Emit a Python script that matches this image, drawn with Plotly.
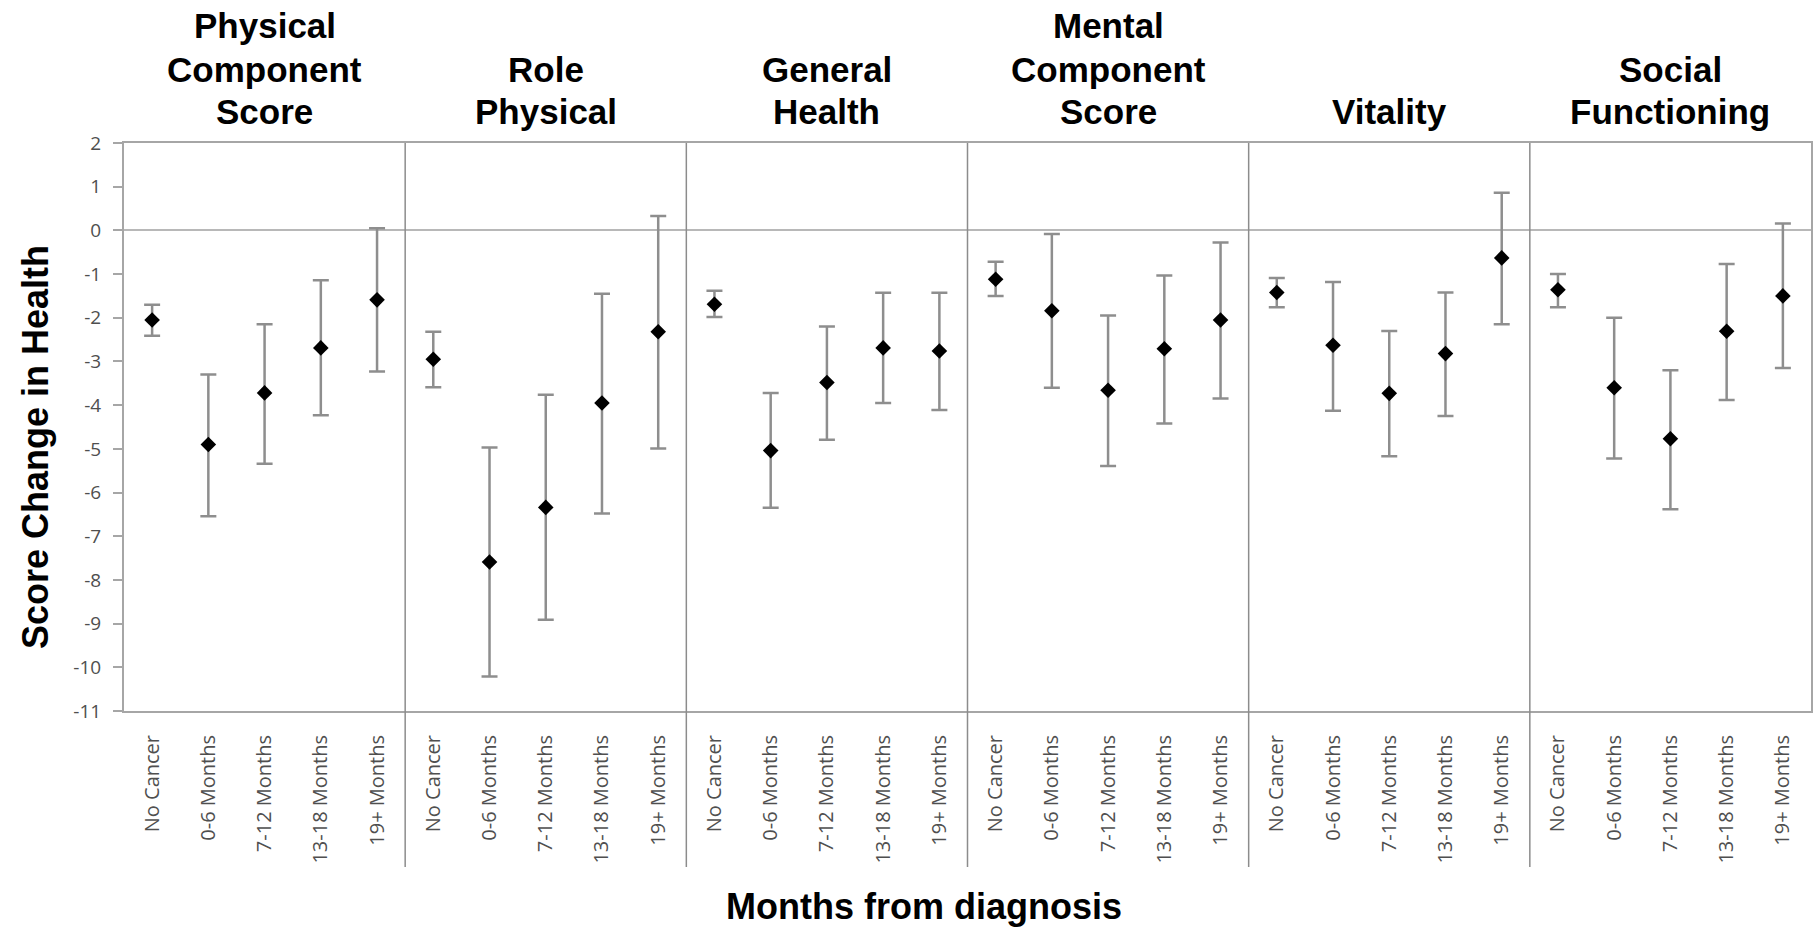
import plotly.graph_objects as go

# Health-score domains (top titles, one list of lines per panel)
panel_titles = [
    ["Physical", "Component", "Score"],
    ["Role", "Physical"],
    ["General", "Health"],
    ["Mental", "Component", "Score"],
    ["Vitality"],
    ["Social", "Functioning"],
]

# Time since diagnosis groups (repeated in every panel)
groups = ["No Cancer", "0-6 Months", "7-12 Months", "13-18 Months", "19+ Months"]

# Mean score change per domain and group
pcs_mean = [-2.05, -4.90, -3.72, -2.69, -1.59]
rp_mean = [-2.95, -7.59, -6.34, -3.95, -2.32]
gh_mean = [-1.69, -5.04, -3.48, -2.69, -2.76]
mcs_mean = [-1.12, -1.84, -3.66, -2.71, -2.05]
vit_mean = [-1.42, -2.63, -3.73, -2.82, -0.63]
sf_mean = [-1.36, -3.60, -4.77, -2.31, -1.50]

# Upper confidence limits
pcs_upper = [-1.70, -3.30, -2.15, -1.14, 0.05]
rp_upper = [-2.32, -4.97, -3.76, -1.45, 0.33]
gh_upper = [-1.38, -3.72, -2.20, -1.43, -1.43]
mcs_upper = [-0.72, -0.08, -1.95, -1.03, -0.28]
vit_upper = [-1.09, -1.18, -2.30, -1.42, 0.86]
sf_upper = [-1.00, -2.00, -3.20, -0.77, 0.16]

# Lower confidence limits
pcs_lower = [-2.41, -6.54, -5.34, -4.23, -3.23]
rp_lower = [-3.59, -10.21, -8.91, -6.48, -4.99]
gh_lower = [-1.98, -6.35, -4.79, -3.95, -4.11]
mcs_lower = [-1.50, -3.60, -5.39, -4.42, -3.85]
vit_lower = [-1.76, -4.13, -5.17, -4.25, -2.15]
sf_lower = [-1.76, -5.22, -6.38, -3.88, -3.15]

y_ticks = list(range(-11, 3))

means = [pcs_mean, rp_mean, gh_mean, mcs_mean, vit_mean, sf_mean]
uppers = [pcs_upper, rp_upper, gh_upper, mcs_upper, vit_upper, sf_upper]
lowers = [pcs_lower, rp_lower, gh_lower, mcs_lower, vit_lower, sf_lower]

n_groups = len(groups)
n_panels = len(panel_titles)
n_cat = n_groups * n_panels

x_pos, y_val, err_plus, err_minus, tick_text = [], [], [], [], []
for p in range(n_panels):
    for g in range(n_groups):
        i = p * n_groups + g
        x_pos.append(i)
        y_val.append(means[p][g])
        err_plus.append(uppers[p][g] - means[p][g])
        err_minus.append(means[p][g] - lowers[p][g])
        tick_text.append(groups[g])

# Plot-area geometry in pixels
W, H = 1816, 931
M_L, M_R, M_T, M_B = 124, 3, 143, 220
plot_h = H - M_T - M_B
plot_w = W - M_L - M_R


def py(pixel_y):
    return (H - M_B - pixel_y) / plot_h


def px(pixel_x):
    return (pixel_x - M_L) / plot_w


fig = go.Figure()
fig.add_trace(go.Scatter(
    x=x_pos, y=y_val, mode="markers",
    marker=dict(symbol="diamond", size=12, color="black"),
    error_y=dict(type="data", symmetric=False, array=err_plus,
                 arrayminus=err_minus, color="#8e8e8e",
                 thickness=2.5, width=8),
    showlegend=False, cliponaxis=False,
))

axis_grey = "#a6a6a6"
fig.update_xaxes(
    range=[-0.5, n_cat - 0.5],
    tickmode="array", tickvals=x_pos, ticktext=tick_text,
    tickangle=-90, ticks="", ticklabelstandoff=14,
    tickfont=dict(family="Open Sans", size=20, color="#4f4f4f"),
    showgrid=False, zeroline=False,
    showline=True, linecolor=axis_grey, linewidth=2, mirror=True,
)
fig.update_yaxes(
    range=[-11, 2],
    tickmode="array", tickvals=y_ticks, ticktext=[str(v) for v in y_ticks],
    ticks="outside", ticklen=9, tickcolor=axis_grey, tickwidth=1.5,
    ticklabelstandoff=8,
    tickfont=dict(family="Open Sans", size=19, color="#4f4f4f"),
    showgrid=False,
    zeroline=True, zerolinecolor="#b8b8b8", zerolinewidth=1.5,
    showline=True, linecolor=axis_grey, linewidth=2, mirror=True,
)

# Dividers between the domain panels, running through the tick-label band
for p in range(1, n_panels):
    xd = (p * n_groups) / n_cat
    fig.add_shape(type="line", xref="paper", yref="paper",
                  x0=xd, x1=xd, y0=py(867), y1=1,
                  line=dict(color="#8c8c8c", width=1.5))

# Panel titles, bottom aligned, one annotation per line
line_centres = [25.5, 69.5, 111.5]
for p, lines in enumerate(panel_titles):
    offset = 3 - len(lines)
    for k, text in enumerate(lines):
        fig.add_annotation(
            x=p * n_groups + (n_groups - 1) / 2, xref="x",
            y=py(line_centres[offset + k]), yref="paper",
            text="<b>" + text + "</b>", showarrow=False,
            xanchor="center", yanchor="middle",
            font=dict(family="Liberation Sans, Arial", size=35, color="black"),
        )

fig.add_annotation(
    x=px(925), xref="paper", y=py(906), yref="paper",
    text="<b>Months from diagnosis</b>", showarrow=False,
    xanchor="center", yanchor="middle",
    font=dict(family="Liberation Sans, Arial", size=36, color="black"),
)
fig.add_annotation(
    x=px(35), xref="paper", y=py(447), yref="paper",
    text="<b>Score Change in Health</b>", showarrow=False, textangle=-90,
    xanchor="center", yanchor="middle",
    font=dict(family="Liberation Sans, Arial", size=36, color="black"),
)

fig.update_layout(
    width=W, height=H,
    margin=dict(l=M_L, r=M_R, t=M_T, b=M_B),
    paper_bgcolor="white", plot_bgcolor="white",
)

fig.write_html("out.html")
